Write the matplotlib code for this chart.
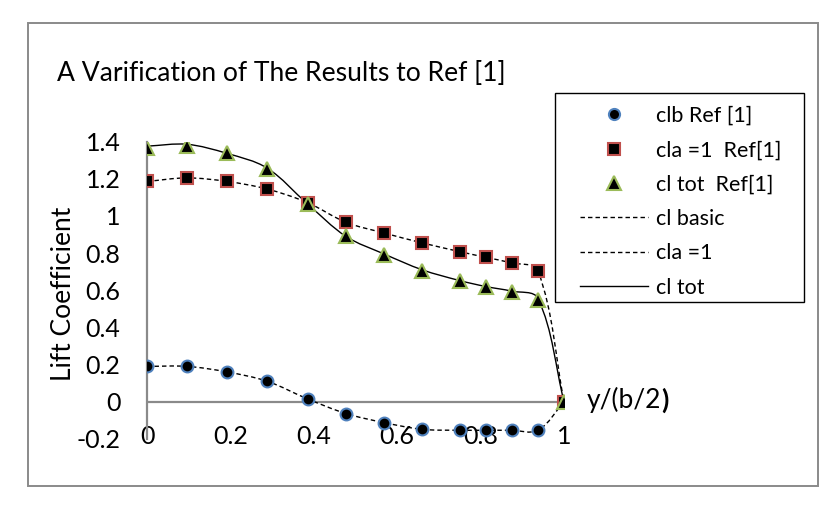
import matplotlib
matplotlib.use("Agg")
import matplotlib.pyplot as plt
from matplotlib.path import Path
from matplotlib.patches import PathPatch, Rectangle
from matplotlib.lines import Line2D
import numpy as np

plt.rcParams['font.family'] = ['Lato', 'DejaVu Sans']

# ---- data ----
span = [0.0, 0.096, 0.192, 0.288, 0.385, 0.477, 0.569, 0.66, 0.75, 0.8125, 0.875, 0.9375, 1.0]
clb_ref = [0.19, 0.19, 0.16, 0.11, 0.015, -0.064, -0.113, -0.149, -0.154, -0.154, -0.154, -0.154, 0.0]
cla_ref = [1.186, 1.205, 1.186, 1.145, 1.072, 0.966, 0.908, 0.855, 0.808, 0.777, 0.747, 0.705, 0.0]
cltot_ref = [1.368, 1.378, 1.337, 1.253, 1.065, 0.894, 0.792, 0.705, 0.648, 0.616, 0.589, 0.548, 0.0]

cl_basic_line = [0.19, 0.19, 0.16, 0.11, 0.015, -0.064, -0.113, -0.149, -0.154, -0.154, -0.154, -0.154, 0.0]
cla1_line = [1.186, 1.205, 1.186, 1.145, 1.072, 0.966, 0.908, 0.855, 0.808, 0.777, 0.747, 0.705, 0.0]
cltot_line = [1.376, 1.386, 1.337, 1.258, 1.065, 0.89, 0.795, 0.71, 0.652, 0.62, 0.595, 0.556, 0.0]

yticks = [-0.2, 0, 0.2, 0.4, 0.6, 0.8, 1, 1.2, 1.4]
ytick_labels = ['-0.2', '0', '0.2', '0.4', '0.6', '0.8', '1', '1.2', '1.4']
xticks = [0, 0.2, 0.4, 0.6, 0.8, 1]
xtick_labels = ['0', '0.2', '0.4', '0.6', '0.8', '1']


def smooth_path(ax, xs, ys, k=1.0 / 3.0):
    """Excel-like smoothed line: cubic Bezier through the points, tangents
    from neighbours, arm length proportional to segment length (screen space)."""
    P = ax.transData.transform(np.column_stack([xs, ys]).astype(float))
    n = len(P)
    tang = []
    for i in range(n):
        a = P[i - 1] if i > 0 else P[i]
        b = P[i + 1] if i < n - 1 else P[i]
        d = b - a
        L = np.hypot(*d)
        tang.append(d / L if L > 0 else d)
    verts = [P[0]]
    codes = [Path.MOVETO]
    for i in range(n - 1):
        seg = np.hypot(*(P[i + 1] - P[i]))
        c1 = P[i] + tang[i] * seg * k
        c2 = P[i + 1] - tang[i + 1] * seg * k
        verts += [c1, c2, P[i + 1]]
        codes += [Path.CURVE4] * 3
    verts = ax.transData.inverted().transform(np.array(verts))
    return Path(verts, codes)


W, H = 838, 507
fig = plt.figure(figsize=(W / 100, H / 100), dpi=100)
fig.patch.set_facecolor('white')

# outer chart border
fig.patches.append(Rectangle((28 / W, 1 - 486 / H), 790 / W, 463 / H,
                             transform=fig.transFigure, fill=False,
                             edgecolor='#8a8a8a', linewidth=1.4, zorder=0))

ax = fig.add_axes([147 / W, 1 - 438.8 / H, (564 - 147) / W, (438.8 - 141.7) / H])
ax.set_xlim(0, 1)
ax.set_ylim(-0.2, 1.4)
for s in ['top', 'right', 'bottom']:
    ax.spines[s].set_visible(False)
ax.spines['left'].set_color('#8a8a8a')
ax.spines['left'].set_linewidth(1.6)
ax.axhline(0, color='#8a8a8a', linewidth=1.6, zorder=1)

ax.set_yticks(yticks)
ax.set_yticklabels(ytick_labels)
ax.set_xticks(xticks)
ax.set_xticklabels(xtick_labels)
ax.tick_params(axis='y', length=0, pad=19, labelsize=18)
ax.tick_params(axis='x', length=0, pad=-10, labelsize=18)

dash = (0, (3.2, 2.2))
for ys, ls in [(cl_basic_line, dash), (cla1_line, dash), (cltot_line, '-')]:
    ax.add_patch(PathPatch(smooth_path(ax, span, ys), fill=False, edgecolor='black',
                           linewidth=1.0, linestyle=ls, zorder=2))

ax.plot(span, clb_ref, linestyle='none', marker='o', markersize=8.5,
        markerfacecolor='black', markeredgecolor='#4F81BD', markeredgewidth=1.5, zorder=3)
ax.plot(span, cla_ref, linestyle='none', marker='s', markersize=8.5,
        markerfacecolor='black', markeredgecolor='#C0504D', markeredgewidth=1.5, zorder=4)
ax.plot(span, cltot_ref, linestyle='none', marker='^', markersize=10.5,
        markerfacecolor='black', markeredgecolor='#9BBB59', markeredgewidth=1.5, zorder=5)

handles = [
    Line2D([], [], linestyle='none', marker='o', markersize=8, markerfacecolor='black',
           markeredgecolor='#4F81BD', markeredgewidth=1.5),
    Line2D([], [], linestyle='none', marker='s', markersize=8, markerfacecolor='black',
           markeredgecolor='#C0504D', markeredgewidth=1.5),
    Line2D([], [], linestyle='none', marker='^', markersize=10, markerfacecolor='black',
           markeredgecolor='#9BBB59', markeredgewidth=1.5),
    Line2D([], [], color='black', linewidth=1.0, linestyle=dash),
    Line2D([], [], color='black', linewidth=1.0, linestyle=dash),
    Line2D([], [], color='black', linewidth=1.0, linestyle='-'),
]
labels = ['clb Ref [1]', 'cla =1  Ref[1]', 'cl tot  Ref[1]', 'cl basic', 'cla =1', 'cl tot']

# legend frame
fig.patches.append(Rectangle((555 / W, 1 - 302.3 / H), (804.3 - 555) / W, (302.3 - 93.3) / H,
                             transform=fig.transFigure, fill=False,
                             edgecolor='black', linewidth=1.0, zorder=5))
leg = fig.legend(handles, labels, loc='upper left',
                 bbox_to_anchor=(573.5 / W, 1 - 99.5 / H),
                 bbox_transform=fig.transFigure, borderaxespad=0,
                 fontsize=15.5, frameon=False, handlelength=3.16,
                 handletextpad=0.37, labelspacing=0.665, borderpad=0.3)

fig.text(57 / W, 1 - 73 / H, 'A Varification of The Results to Ref [1]',
         fontsize=19.1, va='center', ha='left')
fig.text(63 / W, 1 - 294 / H, 'Lift Coefficient', fontsize=19, rotation=90,
         va='center', ha='center')
t = fig.text(587 / W, 1 - 400 / H, 'y/(b/2', fontsize=19, va='center', ha='left')
fig.canvas.draw()
bb = t.get_window_extent()
fig.text(bb.x1 / W, 1 - 400 / H, ')', fontsize=19, va='center', ha='left', fontweight='bold')

fig.savefig('out.png', dpi=100)
